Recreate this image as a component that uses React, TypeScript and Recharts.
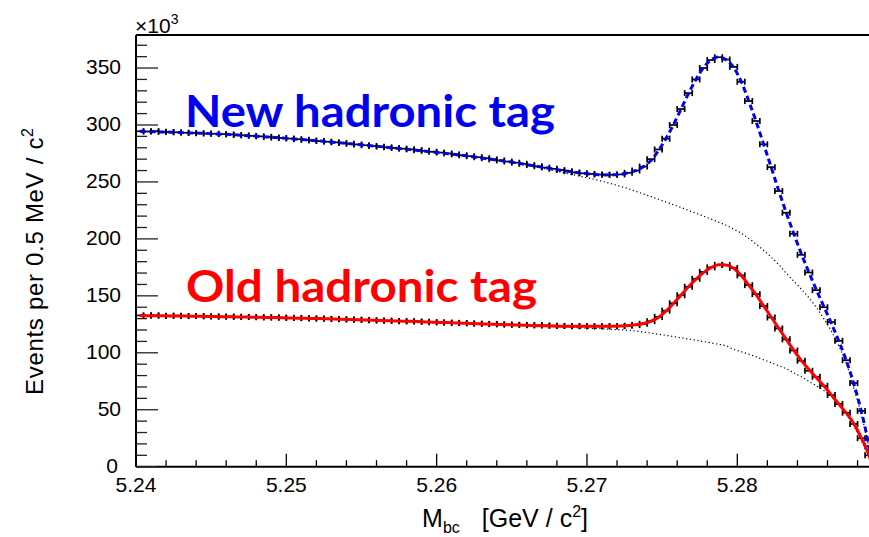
import { ComposedChart, ErrorBar, Line, ReferenceLine, Scatter, XAxis, YAxis } from "recharts";

// Histogram binning in M_bc (GeV / c^2)
const BIN_LO = 5.24;
const BIN_WIDTH = 0.0005;
const M_END = 5.289;
const Y_MAX = 379;

// Events per bin (x10^3), new hadronic tag
const newCounts = [
  294.5, 294.3, 294.6, 294.0, 293.8, 293.6, 293.2, 293.0, 292.8, 292.5,
  292.3, 292.0, 291.7, 291.2, 290.9, 290.4, 290.0, 289.6, 289.0, 288.6,
  288.1, 287.5, 287.0, 286.4, 285.9, 285.3, 284.8, 284.1, 283.5, 282.9,
  282.2, 281.6, 281.0, 280.4, 279.8, 279.2, 278.6, 277.9, 277.3, 276.5,
  275.8, 275.0, 274.2, 273.4, 272.6, 271.7, 270.8, 269.8, 268.9, 267.9,
  266.9, 265.9, 264.8, 263.7, 262.6, 261.5, 260.4, 259.4, 258.4, 257.6,
  257.0, 256.5, 256.3, 256.3, 256.6, 258.0, 260.0, 263.5, 270.0, 278.5,
  288.0, 300.0, 314.0, 328.0, 340.0, 350.0, 357.0, 359.5, 357.5, 351.0,
  338.0, 321.0, 303.5, 283.0, 263.0, 242.0, 223.0, 204.5, 186.0, 170.5,
  155.0, 140.0, 127.0, 110.5, 93.5, 73.5, 49.0, 18.0,
];

// Events per bin (x10^3), old hadronic tag
const oldCounts = [
  132.8, 132.6, 132.9, 132.5, 132.4, 132.6, 132.3, 132.2, 132.3, 132.0,
  131.9, 131.8, 131.8, 131.6, 131.5, 131.4, 131.2, 131.1, 131.0, 130.8,
  130.7, 130.5, 130.4, 130.2, 130.0, 129.8, 129.7, 129.4, 129.3, 129.0,
  128.9, 128.6, 128.4, 128.2, 128.0, 127.8, 127.6, 127.4, 127.2, 126.9,
  126.7, 126.5, 126.3, 126.1, 125.8, 125.6, 125.4, 125.2, 125.0, 124.8,
  124.6, 124.4, 124.2, 124.1, 123.9, 123.8, 123.6, 123.5, 123.4, 123.3,
  123.3, 123.2, 123.3, 123.4, 123.4, 123.7, 124.3, 125.5, 127.8, 131.5,
  137.0, 143.5, 150.5, 158.0, 165.0, 171.0, 175.0, 177.2, 177.0, 174.5,
  168.0, 159.4, 151.5, 141.0, 131.0, 121.4, 111.8, 102.0, 93.0, 84.2,
  79.0, 71.0, 62.9, 55.0, 47.4, 37.5, 25.0, 10.0,
];

// Total fit (signal + background) at bin centres
const newFit = [
  294.4, 294.2, 294.0, 293.9, 293.7, 293.5, 293.2, 293.0, 292.8, 292.5,
  292.2, 291.9, 291.6, 291.2, 290.8, 290.4, 290.0, 289.5, 289.1, 288.6,
  288.1, 287.5, 287.0, 286.4, 285.9, 285.3, 284.7, 284.1, 283.5, 282.9,
  282.2, 281.6, 281.0, 280.3, 279.7, 279.0, 278.4, 277.7, 277.0, 276.3,
  275.6, 274.8, 274.0, 273.2, 272.4, 271.5, 270.6, 269.7, 268.7, 267.8,
  266.9, 265.8, 264.7, 263.6, 262.5, 261.4, 260.3, 259.3, 258.4, 257.6,
  256.9, 256.4, 256.2, 256.3, 256.8, 257.9, 259.9, 263.3, 268.9, 277.4,
  288.0, 300.2, 313.8, 327.5, 340.0, 350.3, 357.2, 359.6, 357.2, 350.6,
  338.3, 321.5, 303.0, 283.2, 263.0, 242.6, 223.2, 204.8, 187.2, 171.0,
  155.6, 140.8, 126.0, 110.4, 93.2, 72.8, 48.6, 18.5,
];

const oldFit = [
  132.7, 132.6, 132.5, 132.5, 132.4, 132.3, 132.2, 132.1, 132.0, 131.9,
  131.8, 131.7, 131.6, 131.5, 131.4, 131.3, 131.1, 131.0, 130.9, 130.7,
  130.6, 130.4, 130.3, 130.1, 130.0, 129.8, 129.6, 129.4, 129.2, 129.0,
  128.8, 128.6, 128.4, 128.2, 128.0, 127.8, 127.6, 127.4, 127.1, 126.9,
  126.7, 126.5, 126.2, 126.0, 125.7, 125.5, 125.2, 125.0, 124.8, 124.6,
  124.4, 124.2, 124.0, 123.8, 123.7, 123.5, 123.4, 123.3, 123.2, 123.2,
  123.2, 123.2, 123.3, 123.4, 123.6, 124.0, 124.6, 125.7, 127.7, 131.0,
  136.5, 143.3, 150.6, 157.9, 164.6, 170.4, 174.8, 177.2, 177.0, 174.3,
  168.0, 159.6, 151.0, 141.2, 131.4, 121.6, 112.0, 102.3, 93.3, 85.5,
  78.4, 71.0, 63.1, 55.0, 47.0, 37.8, 25.2, 10.5,
];

// Background-only component of each fit
const newBkg = [
  294.4, 294.2, 294.0, 293.9, 293.7, 293.5, 293.2, 293.0, 292.8, 292.5,
  292.2, 291.9, 291.6, 291.2, 290.8, 290.4, 290.0, 289.5, 289.1, 288.6,
  288.1, 287.5, 287.0, 286.4, 285.9, 285.3, 284.7, 284.1, 283.5, 282.9,
  282.2, 281.6, 281.0, 280.3, 279.7, 279.0, 278.4, 277.7, 277.0, 276.3,
  275.6, 274.8, 274.0, 273.2, 272.4, 271.5, 270.6, 269.7, 268.7, 267.8,
  266.3, 265.1, 263.9, 262.7, 261.4, 260.0, 258.6, 257.2, 255.8, 254.4,
  253.0, 251.4, 249.7, 247.9, 246.0, 244.0, 241.8, 239.5, 237.2, 234.8,
  232.4, 230.0, 227.6, 225.1, 222.6, 220.0, 217.4, 214.7, 212.0, 208.6,
  205.0, 200.5, 195.5, 190.0, 184.0, 177.5, 170.0, 163.0, 156.0, 148.5,
  140.0, 130.0, 119.0, 106.0, 91.0, 69.0, 46.0, 17.0,
];

const oldBkg = [
  132.7, 132.6, 132.5, 132.5, 132.4, 132.3, 132.2, 132.1, 132.0, 131.9,
  131.8, 131.7, 131.6, 131.5, 131.4, 131.3, 131.1, 131.0, 130.9, 130.7,
  130.6, 130.4, 130.3, 130.1, 130.0, 129.8, 129.6, 129.4, 129.2, 129.0,
  128.8, 128.6, 128.4, 128.2, 128.0, 127.8, 127.6, 127.4, 127.1, 126.9,
  126.7, 126.5, 126.2, 126.0, 125.7, 125.5, 125.2, 125.0, 124.7, 124.4,
  124.2, 124.0, 123.7, 123.5, 123.2, 123.0, 122.7, 122.4, 122.1, 121.8,
  121.5, 121.2, 120.9, 120.5, 120.2, 119.8, 119.0, 118.2, 117.3, 116.3,
  115.3, 114.3, 113.2, 112.1, 111.0, 109.9, 108.7, 107.5, 106.2, 103.0,
  101.0, 98.8, 96.4, 93.8, 91.3, 88.7, 86.0, 82.5, 79.0, 75.0,
  71.0, 67.0, 62.0, 54.5, 46.5, 36.0, 23.0, 9.0,
];

// Both fits and both backgrounds vanish at the kinematic endpoint
const ENDPOINT_VALUE = 0;

const xTicks = [
  5.24, 5.242, 5.244, 5.246, 5.248, 5.25, 5.252, 5.254, 5.256, 5.258,
  5.26, 5.262, 5.264, 5.266, 5.268, 5.27, 5.272, 5.274, 5.276, 5.278,
  5.28, 5.282, 5.284, 5.286, 5.288,
];
const xMajorTicks = [5.24, 5.25, 5.26, 5.27, 5.28];

const yTicks = [
  0, 10, 20, 30, 40, 50, 60, 70, 80, 90, 100, 110, 120, 130, 140, 150, 160, 170, 180, 190,
  200, 210, 220, 230, 240, 250, 260, 270, 280, 290, 300, 310, 320, 330, 340, 350, 360, 370,
];
const yMajorTicks = [0, 50, 100, 150, 200, 250, 300, 350];

const FONT = "'Liberation Sans', Arial, Helvetica, sans-serif";

const bins = newCounts.map((count, i) => ({
  x: Math.round((BIN_LO + BIN_WIDTH * (i + 0.5)) * 1e5) / 1e5,
  xErr: BIN_WIDTH / 2,
  newCount: count,
  oldCount: oldCounts[i],
}));

const curves = [
  ...bins.map((b, i) => ({
    x: b.x,
    newFit: newFit[i],
    oldFit: oldFit[i],
    newBkg: newBkg[i],
    oldBkg: oldBkg[i],
  })),
  { x: M_END, newFit: ENDPOINT_VALUE, oldFit: ENDPOINT_VALUE, newBkg: ENDPOINT_VALUE, oldBkg: ENDPOINT_VALUE },
];

// ROOT-style ticks: pointing into the frame, long for labelled values
function XTick(props: any) {
  const { x, y, payload } = props;
  const major = xMajorTicks.includes(payload.value);
  return (
    <g>
      <line x1={x} x2={x} y1={y} y2={y - (major ? 13 : 6.5)} stroke="#000" strokeWidth={1.3} />
      {major && (
        <text x={x} y={y + 25} textAnchor="middle" fontSize={21} fontFamily={FONT} fill="#000">
          {payload.value.toFixed(2)}
        </text>
      )}
    </g>
  );
}

function YTick(props: any) {
  const { x, y, payload } = props;
  const major = yMajorTicks.includes(payload.value);
  // the zero label sits a little further left, clear of the first x label
  const labelX = payload.value === 0 ? x - 18 : x - 15;
  return (
    <g>
      <line x1={x} x2={x + (major ? 22 : 11)} y1={y} y2={y} stroke="#222" strokeWidth={1.3} />
      {major && (
        <text x={labelX} y={y + 6} textAnchor="end" fontSize={21} fontFamily={FONT} fill="#000">
          {payload.value}
        </text>
      )}
    </g>
  );
}

const hideMarker = () => <g />;

export default function App() {
  return (
    <div
      style={{
        position: "absolute",
        left: 0,
        top: 0,
        width: 869,
        height: 537,
        overflow: "hidden",
        background: "#fff",
      }}
    >
      <ComposedChart
        width={880}
        height={537}
        data={curves}
        margin={{ top: 35, right: 7.4, bottom: 30.3, left: 76 }}
      >
        <XAxis
          type="number"
          dataKey="x"
          domain={[BIN_LO, M_END]}
          ticks={xTicks}
          interval={0}
          tick={<XTick />}
          tickLine={false}
          tickSize={0}
          tickMargin={0}
          height={40}
          axisLine={{ stroke: "#000", strokeWidth: 2 }}
          allowDataOverflow
        />
        <YAxis
          type="number"
          domain={[0, Y_MAX]}
          ticks={yTicks}
          interval={0}
          tick={<YTick />}
          tickLine={false}
          tickSize={0}
          tickMargin={0}
          width={60}
          axisLine={{ stroke: "#000", strokeWidth: 2 }}
          allowDataOverflow
        />
        <ReferenceLine y={Y_MAX} stroke="#000" strokeWidth={2} />
        <ReferenceLine x={M_END} stroke="#000" strokeWidth={2} />

        <Line
          dataKey="newBkg"
          type="monotone"
          stroke="#000"
          strokeWidth={1.2}
          strokeDasharray="1.2 2.6"
          dot={false}
          isAnimationActive={false}
        />
        <Line
          dataKey="oldBkg"
          type="monotone"
          stroke="#000"
          strokeWidth={1.2}
          strokeDasharray="1.2 2.6"
          dot={false}
          isAnimationActive={false}
        />

        <Scatter data={bins} dataKey="newCount" shape={hideMarker} isAnimationActive={false}>
          <ErrorBar dataKey="xErr" direction="x" width={3} stroke="#000" strokeWidth={1.7} />
        </Scatter>
        <Scatter data={bins} dataKey="oldCount" shape={hideMarker} isAnimationActive={false}>
          <ErrorBar dataKey="xErr" direction="x" width={3} stroke="#000" strokeWidth={1.7} />
        </Scatter>

        <Line
          dataKey="newFit"
          type="monotone"
          stroke="#0000f0"
          strokeWidth={3}
          strokeDasharray="6 3.5"
          dot={false}
          isAnimationActive={false}
        />
        <Line
          dataKey="oldFit"
          type="monotone"
          stroke="#ff0000"
          strokeWidth={3}
          dot={false}
          isAnimationActive={false}
        />
      </ComposedChart>

      <svg
        width={869}
        height={537}
        style={{ position: "absolute", left: 0, top: 0, pointerEvents: "none" }}
      >
        <text x={135} y={33} fontSize={21} fontFamily={FONT} fill="#000">
          ×10
          <tspan dy={-9} fontSize={14}>3</tspan>
        </text>

        <text
          transform="translate(43, 128) rotate(-90)"
          textAnchor="end"
          fontSize={24}
          fontFamily={FONT}
          fill="#000"
          textLength={267}
        >
          Events per 0.5 MeV / c
          <tspan dy={-10} fontSize={16}>2</tspan>
        </text>

        <text x={588} y={527} textAnchor="end" fontSize={25} fontFamily={FONT} fill="#000">
          M
          <tspan dy={6} fontSize={16}>bc</tspan>
          <tspan dy={-6} dx={22}>[GeV / c</tspan>
          <tspan dy={-10} fontSize={16}>2</tspan>
          <tspan dy={10}>]</tspan>
        </text>

        <text
          x={185}
          y={127}
          fontSize={43}
          fontWeight={700}
          fontFamily="Lato, 'Open Sans', sans-serif"
          fill="#0000f0"
          textLength={370}
          lengthAdjust="spacingAndGlyphs"
        >
          New hadronic tag
        </text>
        <text
          x={186}
          y={302}
          fontSize={43}
          fontWeight={700}
          fontFamily="Lato, 'Open Sans', sans-serif"
          fill="#ff0000"
          textLength={351}
          lengthAdjust="spacingAndGlyphs"
        >
          Old hadronic tag
        </text>
      </svg>
    </div>
  );
}
